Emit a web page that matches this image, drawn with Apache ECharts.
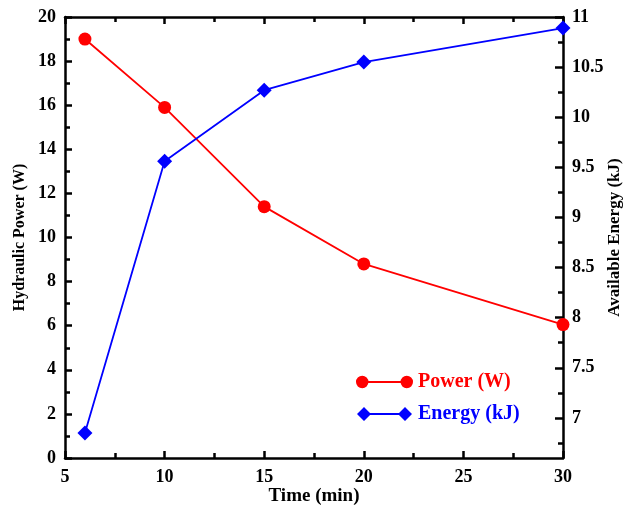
<!DOCTYPE html>
<html><head><meta charset="utf-8">
<script src="https://cdn.jsdelivr.net/npm/echarts@6/dist/echarts.min.js"></script>
<style>html,body{margin:0;padding:0;background:#fff}#c{width:630px;height:506px}</style>
</head><body><div id="c"></div>
<script>
const time = [6, 10, 15, 20, 30];
const power = [19.0, 15.9, 11.4, 8.8, 6.05];
const energy = [6.85, 9.56, 10.27, 10.55, 10.89];
const energyLabels = [7, 7.5, 8, 8.5, 9, 9.5, 10, 10.5, 11];
const energyMinor = [6.75, 7.25, 7.75, 8.25, 8.75, 9.25, 9.75, 10.25, 10.75];

const F = '"Liberation Serif", "Times New Roman", serif';
const chart = echarts.init(document.getElementById('c'));
const axLine = {lineStyle: {color: '#000', width: 2.5}};
const tickStyle = {color: '#000', width: 2.5};
const lbl = {fontFamily: F, fontWeight: 'bold', fontSize: 18, color: '#000'};
const iconPower = 'path://M0,7A6,6 0 1,1 12,7A6,6 0 1,1 0,7Z M11,6.1L44,6.1L44,7.9L11,7.9Z M43,7A6,6 0 1,1 55,7A6,6 0 1,1 43,7Z';
const iconEnergy = 'path://M0,7L7,0L14,7L7,14Z M13,6.1L42,6.1L42,7.9L13,7.9Z M41,7L48,0L55,7L48,14Z';
chart.setOption({
  animation: false,
  textStyle: {fontFamily: F},
  grid: {left: 65, right: 67, top: 17, bottom: 48, outerBoundsMode: 'none', containLabel: false},
  legend: {
    left: 351, top: 367, orient: 'vertical', itemGap: 12, itemWidth: 57, itemHeight: 14,
    textStyle: {fontFamily: F, fontWeight: 'bold', fontSize: 20},
    data: [
      {name: 'Power (W)', icon: iconPower, textStyle: {color: '#ff0000'}},
      {name: 'Energy (kJ)', icon: iconEnergy, textStyle: {color: '#0000ff'}}
    ]
  },
  xAxis: [{
    type: 'value', min: 5, max: 30, interval: 5,
    name: 'Time (min)', nameLocation: 'middle', nameGap: 29, nameMoveOverlap: false,
    nameTextStyle: {fontFamily: F, fontWeight: 'bold', fontSize: 19, color: '#000'},
    axisLine: axLine,
    axisTick: {inside: true, length: 7, lineStyle: tickStyle},
    minorTick: {show: true, splitNumber: 2, length: 5, lineStyle: tickStyle},
    axisLabel: Object.assign({margin: 10}, lbl),
    splitLine: {show: false}
  }, {
    type: 'value', min: 5, max: 30, interval: 5, position: 'top',
    axisLine: axLine,
    axisTick: {inside: true, length: 7, lineStyle: tickStyle},
    minorTick: {show: true, splitNumber: 2, length: 5, lineStyle: tickStyle},
    axisLabel: {show: false}, splitLine: {show: false}
  }],
  yAxis: [{
    type: 'value', min: 0, max: 20, interval: 2, position: 'left',
    name: 'Hydraulic Power (W)', nameLocation: 'middle', nameGap: 37, nameMoveOverlap: false,
    nameTextStyle: {fontFamily: F, fontWeight: 'bold', fontSize: 16, color: '#000'},
    axisLine: axLine,
    axisTick: {inside: true, length: 7, lineStyle: tickStyle},
    minorTick: {show: true, splitNumber: 2, length: 5, lineStyle: tickStyle},
    axisLabel: Object.assign({margin: 9}, lbl),
    splitLine: {show: false}
  }, {
    type: 'value', min: 6.6, max: 11, position: 'right',
    name: 'Available Energy (kJ)', nameLocation: 'middle', nameGap: 43, nameRotate: 90, nameMoveOverlap: false,
    nameTextStyle: {fontFamily: F, fontWeight: 'bold', fontSize: 17, color: '#000'},
    axisLine: axLine,
    axisTick: {inside: true, length: 8, customValues: energyLabels, lineStyle: tickStyle},
    axisLabel: Object.assign({margin: 9, customValues: energyLabels}, lbl),
    splitLine: {show: false}
  }, {
    type: 'value', min: 6.6, max: 11, position: 'right',
    axisLine: {show: false},
    axisTick: {inside: true, length: 5, customValues: energyMinor, lineStyle: tickStyle},
    axisLabel: {show: false}, splitLine: {show: false}
  }],
  series: [{
    name: 'Power (W)', type: 'line', xAxisIndex: 0, yAxisIndex: 0,
    data: time.map((t, i) => [t, power[i]]),
    symbol: 'circle', symbolSize: 13,
    lineStyle: {color: '#ff0000', width: 1.8}, itemStyle: {color: '#ff0000'}
  }, {
    name: 'Energy (kJ)', type: 'line', xAxisIndex: 0, yAxisIndex: 1,
    data: time.map((t, i) => [t, energy[i]]),
    symbol: 'diamond', symbolSize: 15,
    lineStyle: {color: '#0000ff', width: 1.8}, itemStyle: {color: '#0000ff'}
  }]
});
</script></body></html>
